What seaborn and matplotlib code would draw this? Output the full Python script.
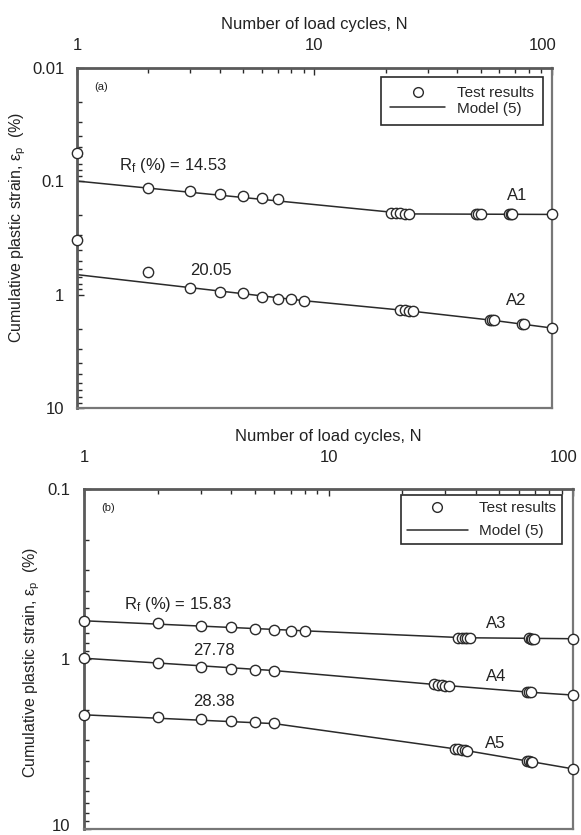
import numpy as np
import pandas as pd
import matplotlib
matplotlib.use("Agg")
import matplotlib.pyplot as plt
from matplotlib.ticker import LogLocator, FuncFormatter, NullFormatter
from matplotlib.lines import Line2D
from matplotlib.transforms import ScaledTranslation
import seaborn as sns

# ---------------- data ----------------
# Panel (a)
A1_N = [1, 2, 3, 4, 5, 6, 7, 21, 22, 23, 24, 25, 48, 49, 50, 66, 67, 68, 100]
A1_eps = [0.056, 0.114, 0.123, 0.130, 0.135, 0.140, 0.144, 0.190, 0.191, 0.192, 0.193, 0.194,
          0.196, 0.196, 0.196, 0.196, 0.196, 0.196, 0.196]
A1_model_N = [1, 25, 100]
A1_model_eps = [0.0995, 0.194, 0.196]

A2_N = [1, 2, 3, 4, 5, 6, 7, 8, 9, 23, 24, 25, 26, 55, 56, 57, 75, 76, 100]
A2_eps = [0.327, 0.635, 0.869, 0.942, 0.961, 1.048, 1.084, 1.099, 1.135, 1.37, 1.38, 1.39, 1.40,
          1.67, 1.68, 1.69, 1.80, 1.81, 1.97]
A2_model_N = [1, 9, 25, 57, 100]
A2_model_eps = [0.666, 1.13, 1.39, 1.69, 1.97]

# Panel (b)
A3_N = [1, 2, 3, 4, 5, 6, 7, 8, 34, 35, 36, 37, 38, 66, 67, 68, 69, 100]
A3_eps = [0.596, 0.617, 0.636, 0.650, 0.665, 0.671, 0.680, 0.683, 0.748, 0.749, 0.750, 0.751,
          0.752, 0.757, 0.758, 0.758, 0.759, 0.760]
A3_model_N = [1, 8, 36, 100]
A3_model_eps = [0.596, 0.683, 0.750, 0.760]

A4_N = [1, 2, 3, 4, 5, 6, 27, 28, 29, 30, 31, 65, 66, 67, 100]
A4_eps = [0.99, 1.06, 1.11, 1.14, 1.16, 1.17, 1.41, 1.42, 1.43, 1.44, 1.45, 1.56, 1.57, 1.57, 1.63]
A4_model_N = [1, 6, 30, 67, 100]
A4_model_eps = [0.99, 1.17, 1.43, 1.57, 1.63]

A5_N = [1, 2, 3, 4, 5, 6, 33, 34, 35, 36, 37, 65, 66, 67, 68, 100]
A5_eps = [2.13, 2.19, 2.25, 2.31, 2.35, 2.38, 3.38, 3.40, 3.42, 3.44, 3.46, 3.97, 3.99, 4.01, 4.03, 4.43]
A5_model_N = [1, 6, 35, 67, 100]
A5_model_eps = [2.13, 2.40, 3.42, 4.01, 4.43]

panel_a_series = ["A1", "A2"]
panel_b_series = ["A3", "A4", "A5"]
x_tick_labels = {1: "1", 10: "10", 100: "100"}
y_tick_labels = {0.01: "0.01", 0.1: "0.1", 1: "1", 10: "10"}
legend_labels = ["Test results", "Model (5)"]

# annotations: (text, N, eps)
panel_a_notes = [("R$_\\mathrm{f}$ (%) = 14.53", 2.55, 0.073), ("20.05", 3.68, 0.61),
                 ("A1", 71, 0.133), ("A2", 71, 1.135)]
panel_b_notes = [("R$_\\mathrm{f}$ (%) = 15.83", 2.43, 0.476), ("27.78", 3.40, 0.888),
                 ("28.38", 3.40, 1.77), ("A3", 48.6, 0.622), ("A4", 48.6, 1.26),
                 ("A5", 48.0, 3.13)]

# ---------------- tables ----------------
tests = pd.concat([
    pd.DataFrame({"N": A1_N, "eps": A1_eps, "series": "A1"}),
    pd.DataFrame({"N": A2_N, "eps": A2_eps, "series": "A2"}),
    pd.DataFrame({"N": A3_N, "eps": A3_eps, "series": "A3"}),
    pd.DataFrame({"N": A4_N, "eps": A4_eps, "series": "A4"}),
    pd.DataFrame({"N": A5_N, "eps": A5_eps, "series": "A5"}),
], ignore_index=True)
models = pd.concat([
    pd.DataFrame({"N": A1_model_N, "eps": A1_model_eps, "series": "A1"}),
    pd.DataFrame({"N": A2_model_N, "eps": A2_model_eps, "series": "A2"}),
    pd.DataFrame({"N": A3_model_N, "eps": A3_model_eps, "series": "A3"}),
    pd.DataFrame({"N": A4_model_N, "eps": A4_model_eps, "series": "A4"}),
    pd.DataFrame({"N": A5_model_N, "eps": A5_model_eps, "series": "A5"}),
], ignore_index=True)

# ---------------- style ----------------
sns.set_style("ticks")
plt.rcParams["font.family"] = ["Liberation Sans", "DejaVu Sans"]
plt.rcParams["mathtext.fontset"] = "custom"
plt.rcParams["mathtext.rm"] = "Liberation Sans"
plt.rcParams["mathtext.it"] = "Liberation Sans:italic"
plt.rcParams["mathtext.default"] = "regular"

INK = "#2a2a2a"
TXT = "#222222"
FRAME = "#5a5a5a"

fig = plt.figure(figsize=(5.81, 8.35), dpi=100)
ax_a = fig.add_axes([0.1325, 0.5114, 0.8176, 0.4072])
ax_b = fig.add_axes([0.1446, 0.0072, 0.8417, 0.4072])


def draw_panel(ax, series, notes, ylim, tag, ylab_xy, xpad, ypad, leg_anchor, leg_bp,
               leg_ls, leg_hl):
    for s in series:
        sns.lineplot(data=models[models.series == s], x="N", y="eps", ax=ax,
                     color=INK, linewidth=1.1, sort=True, estimator=None, legend=False,
                     zorder=2)
    for s in series:
        sns.scatterplot(data=tests[tests.series == s], x="N", y="eps", ax=ax,
                        marker="o", s=55, color="white", edgecolor=INK, linewidth=1.0,
                        legend=False, zorder=3, clip_on=False)
    ax.set_xscale("log")
    ax.set_yscale("log")
    ax.set_xlim(1, 100)
    ax.set_ylim(ylim[1], ylim[0])  # inverted: small values at top
    ax.xaxis.tick_top()
    ax.xaxis.set_label_position("top")
    ax.set_xlabel("Number of load cycles, N", fontsize=12, labelpad=6, color=TXT)
    ax.set_ylabel("Cumulative plastic strain, ε$_\\mathrm{p}$  (%)", fontsize=11.5, color=TXT)
    ax.yaxis.set_label_coords(*ylab_xy)

    ax.xaxis.set_major_locator(LogLocator(base=10, numticks=10))
    ax.xaxis.set_minor_locator(LogLocator(base=10, subs=np.arange(2, 10), numticks=20))
    ax.yaxis.set_major_locator(LogLocator(base=10, numticks=10))
    ax.yaxis.set_minor_locator(LogLocator(base=10, subs=np.arange(2, 10), numticks=20))
    ax.xaxis.set_major_formatter(FuncFormatter(lambda v, p: x_tick_labels.get(round(v, 4), "")))
    ax.yaxis.set_major_formatter(FuncFormatter(lambda v, p: y_tick_labels.get(round(v, 4), "")))
    ax.xaxis.set_minor_formatter(NullFormatter())
    ax.yaxis.set_minor_formatter(NullFormatter())
    ax.tick_params(axis="x", which="both", direction="in", top=True, bottom=False,
                   labeltop=True, labelbottom=False, color=INK)
    ax.tick_params(axis="y", which="both", direction="in", left=True, right=False, color=INK)
    ax.tick_params(axis="x", which="major", length=5, width=1.0, pad=xpad, labelsize=12,
                   labelcolor=TXT)
    ax.tick_params(axis="y", which="major", length=5, width=1.0, pad=ypad, labelsize=12,
                   labelcolor=TXT)
    ax.tick_params(which="minor", length=3.5, width=1.0)
    for side in ["top", "left"]:
        ax.spines[side].set_linewidth(2.0)
        ax.spines[side].set_color(FRAME)
    for side in ["right", "bottom"]:
        ax.spines[side].set_linewidth(1.6)
        ax.spines[side].set_color("#777777")
    ax.grid(False)

    for txt, n, e in notes:
        ax.text(n, e, txt, ha="center", va="center", fontsize=12, color=TXT)
    ax.text(0.05, 0.945, tag, transform=ax.transAxes, ha="center", va="center",
            fontsize=8, color=TXT)

    handles = [Line2D([], [], linestyle="none", marker="o", markersize=7,
                      markerfacecolor="white", markeredgecolor=INK, markeredgewidth=1.0),
               Line2D([], [], color=INK, linewidth=1.1)]
    leg = ax.legend(handles, legend_labels, loc="upper right",
                    bbox_to_anchor=leg_anchor, fontsize=11, frameon=True,
                    fancybox=False, edgecolor=INK, framealpha=1, borderpad=leg_bp,
                    handlelength=leg_hl, handletextpad=0.75, labelspacing=leg_ls,
                    borderaxespad=0.0)
    leg.get_frame().set_linewidth(1.2)


draw_panel(ax_a, panel_a_series, panel_a_notes, (0.01, 10), "(a)", (-0.103, 0.53),
           11, 9, (0.981, 0.974), 0.6, 0.12, 3.6)
draw_panel(ax_b, panel_b_series, panel_b_notes, (0.1, 10), "(b)", (-0.086, 0.49),
           17.5, 10, (0.978, 0.982), 0.38, 0.6, 4.0)

# nudge edge labels slightly inward, as in the reference
fig.canvas.draw()
for ax in (ax_a, ax_b):
    for tick in ax.xaxis.get_major_ticks():
        if tick.label2.get_text() == "100":
            tick.label2.set_transform(tick.label2.get_transform() +
                                      ScaledTranslation(-7 / 72, 0, fig.dpi_scale_trans))
for tick in ax_b.yaxis.get_major_ticks():
    if tick.label1.get_text() == "10":
        tick.label1.set_transform(tick.label1.get_transform() +
                                  ScaledTranslation(0, 3 / 72, fig.dpi_scale_trans))

fig.savefig("out.png", dpi=100)
